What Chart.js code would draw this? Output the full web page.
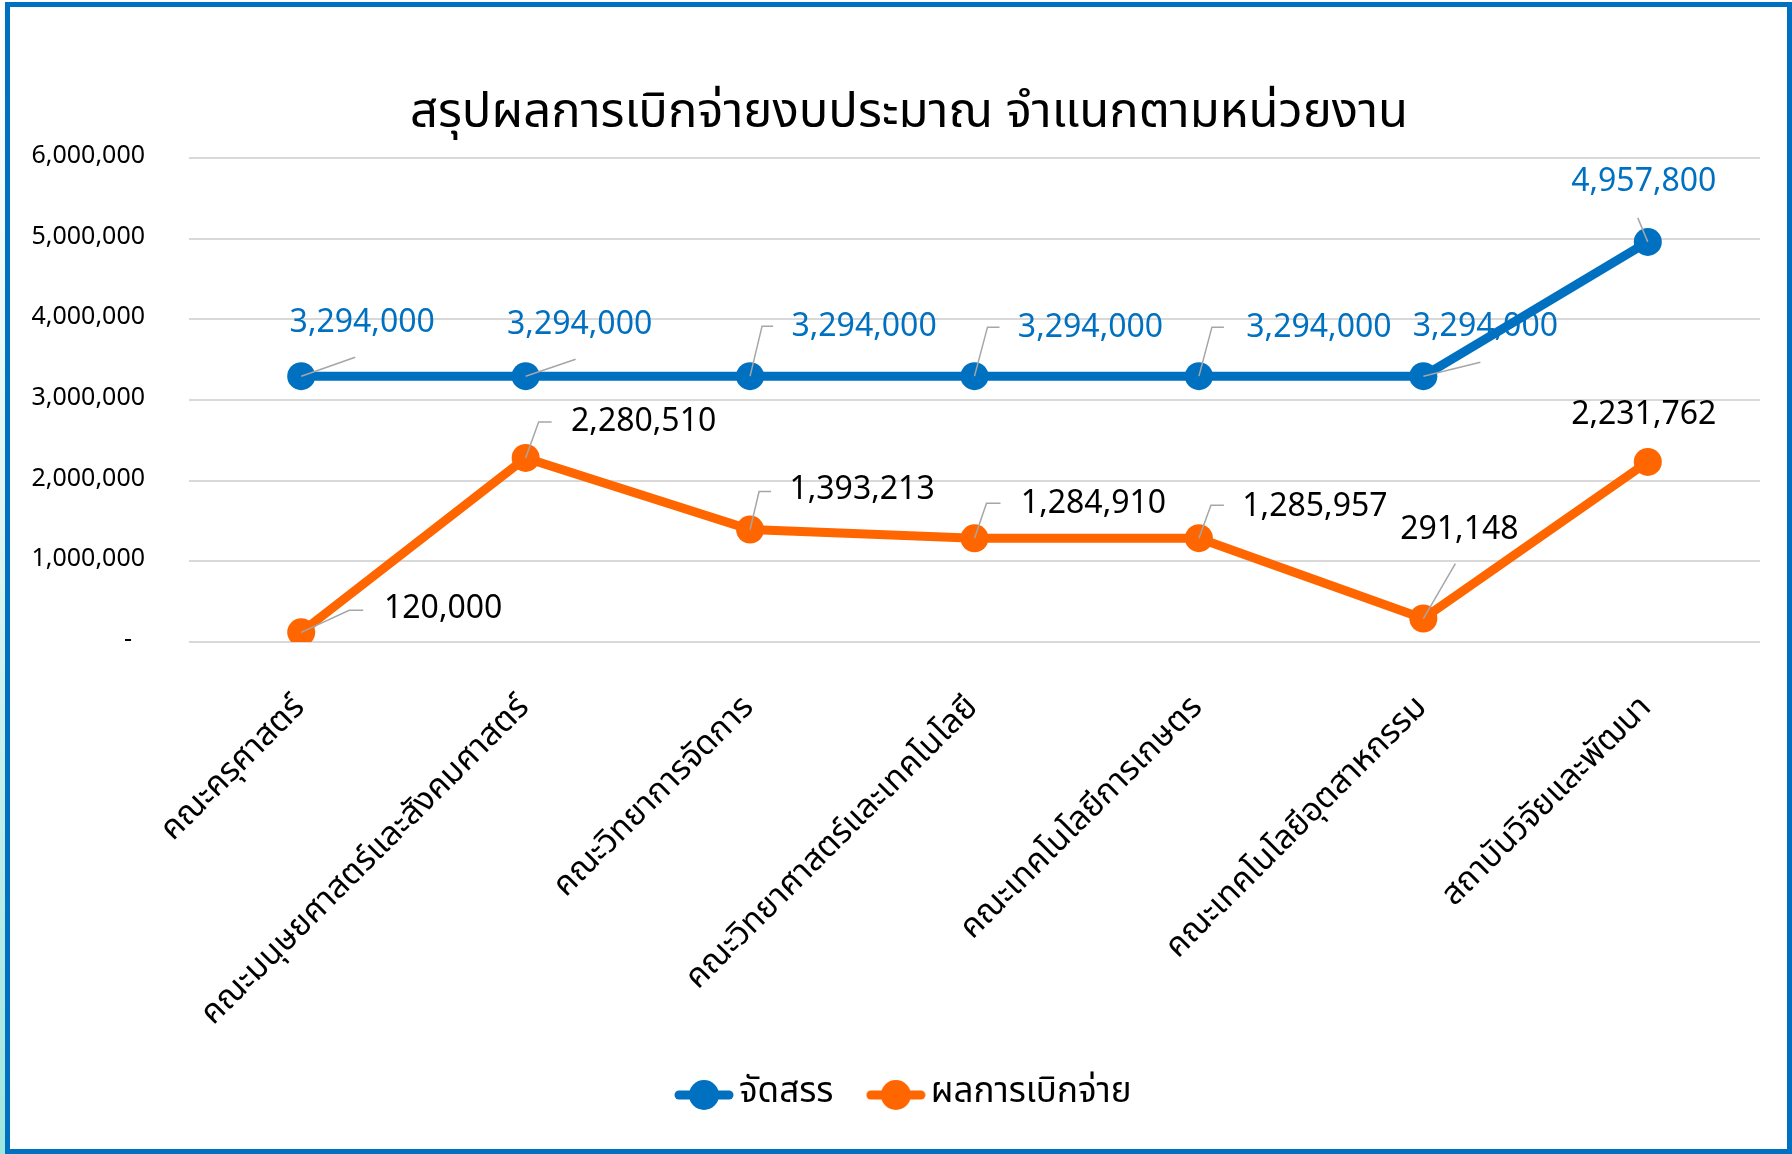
<!DOCTYPE html>
<html lang="th">
<head>
<meta charset="utf-8">
<title>สรุปผลการเบิกจ่ายงบประมาณ</title>
<script src="https://cdn.jsdelivr.net/npm/chart.js@4.4.0/dist/chart.umd.min.js"></script>
<style>
  html, body { margin: 0; padding: 0; }
  body {
    width: 1792px; height: 1154px; overflow: hidden; position: relative;
    background: linear-gradient(to bottom, #ffffff 0%, #dff5f3 45%, #9fe6df 100%);
  }
  #frame {
    position: absolute; left: 5px; top: 2px; width: 1787px; height: 1152px;
    box-sizing: border-box; border: 5px solid #0070c0; background: #fff;
  }
  #frame canvas { display: block; }
</style>
</head>
<body>
<div id="frame"><canvas id="budgetChart" width="1777" height="1142"></canvas></div>
<script>
const title = 'สรุปผลการเบิกจ่ายงบประมาณ จำแนกตามหน่วยงาน';
const categories = [
  'คณะครุศาสตร์',
  'คณะมนุษยศาสตร์และสังคมศาสตร์',
  'คณะวิทยาการจัดการ',
  'คณะวิทยาศาสตร์และเทคโนโลยี',
  'คณะเทคโนโลยีการเกษตร',
  'คณะเทคโนโลยีอุตสาหกรรม',
  'สถาบันวิจัยและพัฒนา'
];
const seriesNames = ['จัดสรร', 'ผลการเบิกจ่าย'];
const allocated = [3294000, 3294000, 3294000, 3294000, 3294000, 3294000, 4957800];
const disbursed = [120000, 2280510, 1393213, 1284910, 1285957, 291148, 2231762];
const yTicks = [0, 1000000, 2000000, 3000000, 4000000, 5000000, 6000000];

const FONT = "'Noto Sans Thai', 'Leelawadee UI', Tahoma, 'Noto Sans', sans-serif";
const BLUE = '#0070c0';
const ORANGE = '#ff6600';

// legend marker: short line with a dot, like the excel legend
function legendMarker(color) {
  const c = document.createElement('canvas');
  c.width = 60; c.height = 32;
  const g = c.getContext('2d');
  g.strokeStyle = color; g.lineWidth = 9; g.lineCap = 'round';
  g.beginPath(); g.moveTo(5, 16); g.lineTo(55, 16); g.stroke();
  g.fillStyle = color;
  g.beginPath(); g.arc(30, 16, 15, 0, Math.PI * 2); g.fill();
  return c;
}

const fmt = v => v.toLocaleString('en-US');

// label offsets from each point (text centre) and leader-line bends
const labelLayout = [
  {
    color: BLUE,
    text: [[61, -51], [54, -49], [114, -47], [116, -46], [120, -46], [62, -47], [-4, -57]],
    leader: [
      [[54, -19]], [[50, -17]], [[12, -50], [23, -50]], [[13, -49], [25, -49]],
      [[13, -49], [25, -49]], [[57, -14]], [[-10, -24]]
    ]
  },
  {
    color: '#000',
    text: [[142, -21], [118, -33], [112, -37], [119, -32], [116, -29], [36, -86], [-4, -44]],
    leader: [
      [[48, -22], [62, -22]], [[13, -36], [26, -36]], [[9, -38], [21, -38]], [[12, -35], [26, -35]],
      [[12, -33], [25, -33]], [[32, -55]], null
    ]
  }
];

const valueLabels = {
  id: 'valueLabels',
  // y tick labels reach into the left padding, so don't let the scale clip them
  afterLayout(chart) {
    chart.scales.y.left = 0;
  },
  beforeDatasetsDraw(chart) {
    const ctx = chart.ctx;
    ctx.save();
    ctx.font = '32px ' + FONT;
    ctx.textAlign = 'center';
    ctx.textBaseline = 'middle';
    chart.data.datasets.forEach((ds, di) => {
      const meta = chart.getDatasetMeta(di);
      const lay = labelLayout[di];
      ctx.fillStyle = lay.color;
      meta.data.forEach((pt, i) => {
        const o = lay.text[i];
        ctx.fillText(fmt(ds.data[i]), pt.x + o[0], pt.y + o[1]);
      });
    });
    ctx.restore();
  },
  afterDatasetsDraw(chart) {
    const ctx = chart.ctx;
    ctx.save();
    ctx.strokeStyle = '#a6a6a6';
    ctx.lineWidth = 1.5;
    chart.data.datasets.forEach((ds, di) => {
      const meta = chart.getDatasetMeta(di);
      const lay = labelLayout[di];
      meta.data.forEach((pt, i) => {
        const path = lay.leader[i];
        if (!path) return;
        ctx.beginPath();
        ctx.moveTo(pt.x, pt.y);
        path.forEach(p => ctx.lineTo(pt.x + p[0], pt.y + p[1]));
        ctx.stroke();
      });
    });
    ctx.restore();
  }
};

const ctx = document.getElementById('budgetChart').getContext('2d');
new Chart(ctx, {
  type: 'line',
  data: {
    labels: categories,
    datasets: [
      {
        label: seriesNames[0],
        data: allocated,
        borderColor: BLUE,
        backgroundColor: BLUE,
        borderWidth: 9,
        pointRadius: 14,
        pointHoverRadius: 14,
        pointBorderWidth: 0,
        pointStyle: 'circle'
      },
      {
        label: seriesNames[1],
        data: disbursed,
        borderColor: ORANGE,
        backgroundColor: ORANGE,
        borderWidth: 9,
        pointRadius: 14,
        pointHoverRadius: 14,
        pointBorderWidth: 0,
        pointStyle: 'circle'
      }
    ]
  },
  options: {
    responsive: false,
    animation: false,
    layout: { padding: { left: 48, right: 27, top: 0, bottom: 26.5 } },
    plugins: {
      title: {
        display: true,
        text: title,
        color: '#000',
        font: { family: FONT, size: 49, weight: 'normal', lineHeight: 1.2 },
        padding: { top: 81, bottom: 11 }
      },
      legend: {
        position: 'bottom',
        labels: {
          color: '#000',
          font: { family: FONT, size: 35 },
          usePointStyle: true,
          pointStyleWidth: 35,
          boxHeight: 32,
          padding: 45,
          generateLabels(chart) {
            return chart.data.datasets.map((ds, i) => ({
              text: ds.label,
              pointStyle: legendMarker(ds.borderColor),
              fillStyle: ds.borderColor,
              strokeStyle: ds.borderColor,
              lineWidth: 0,
              fontColor: '#000',
              datasetIndex: i
            }));
          }
        }
      },
      tooltip: { enabled: false }
    },
    scales: {
      x: {
        offset: true,
        grid: { display: false, drawTicks: false },
        border: { display: false },
        ticks: {
          autoSkip: false,
          minRotation: 45,
          maxRotation: 45,
          padding: 48,
          color: '#000',
          font: { family: FONT, size: 33 }
        },
        afterFit(scale) { scale.height = 390.5; }
      },
      y: {
        min: yTicks[0],
        max: yTicks[yTicks.length - 1],
        grid: { color: '#d9d9d9', lineWidth: 2, drawTicks: false },
        border: { display: false },
        ticks: {
          stepSize: yTicks[1] - yTicks[0],
          padding: 44,
          color: '#000',
          font: { family: FONT, size: 25 },
          callback: v => (v === 0 ? '-  ' : fmt(v))
        },
        afterFit(scale) { scale.width = 131; }
      }
    }
  },
  plugins: [valueLabels]
});
</script>
</body>
</html>
